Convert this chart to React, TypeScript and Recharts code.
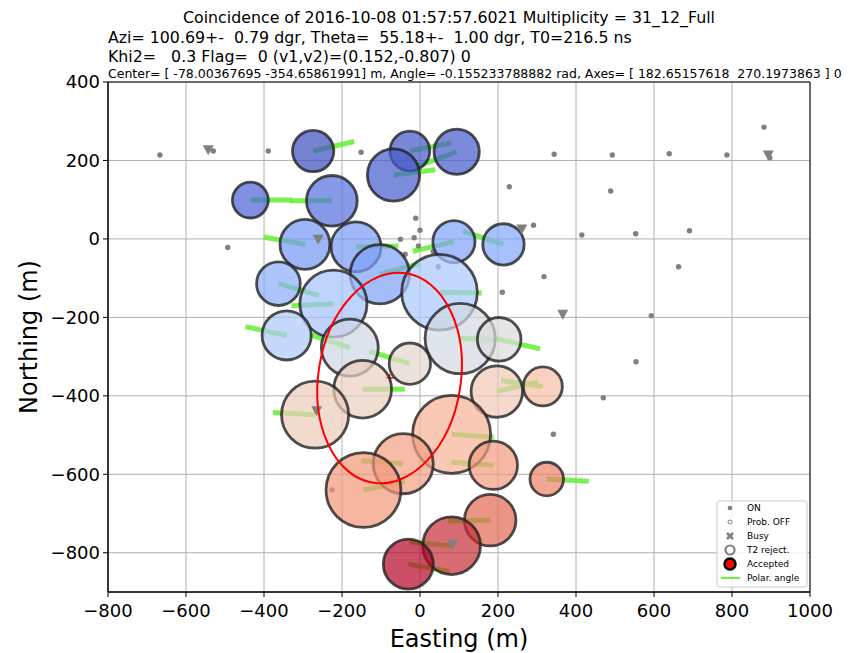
import React from "react";
import {
  CartesianGrid,
  ReferenceArea,
  Scatter,
  ScatterChart,
  XAxis,
  YAxis,
} from "recharts";

// plot box in px (matches the matplotlib axes)
const W = 850;
const H = 653;
const M = { top: 82, right: 40, bottom: 31, left: 48 };
const Y_AXIS_W = 60;
const X_AXIS_H = 30;

const xDomain = [-800, 1000];
const yDomain = [-900, 400];
const xTicks = [-800, -600, -400, -200, 0, 200, 400, 600, 800, 1000];
const yTicks = [-800, -600, -400, -200, 0, 200, 400];

const plotW = W - M.left - M.right - Y_AXIS_W;
const plotH = H - M.top - M.bottom - X_AXIS_H;
const kx = plotW / (xDomain[1] - xDomain[0]);
const ky = plotH / (yDomain[1] - yDomain[0]);

const titleLines = [
  "Coincidence of 2016-10-08 01:57:57.6021 Multiplicity = 31_12_Full",
  "Azi= 100.69+-  0.79 dgr, Theta=  55.18+-  1.00 dgr, T0=216.5 ns",
  "Khi2=   0.3 Flag=  0 (v1,v2)=(0.152,-0.807) 0",
];
const ellipseLine =
  "Center= [ -78.00367695 -354.65861991] m, Angle= -0.155233788882 rad, Axes= [ 182.65157618  270.1973863 ] 0";

// triggered antennas: position (m), footprint radius (m), relative time (0..1), polar angle (deg)
const accepted = [
  { x: -274, y: 224, r: 53, t: 0.0, phi: 13 },
  { x: -26, y: 224, r: 51, t: 0.03, phi: 11 },
  { x: 94, y: 222, r: 58, t: 0.04, phi: -160 },
  { x: -68, y: 163, r: 67, t: 0.05, phi: 7 },
  { x: -435, y: 99, r: 46, t: 0.08, phi: 0 },
  { x: -226, y: 97, r: 65, t: 0.12, phi: 180 },
  { x: -295, y: -14, r: 64, t: 0.25, phi: 170 },
  { x: -164, y: -20, r: 64, t: 0.26, phi: 1 },
  { x: -103, y: -90, r: 76, t: 0.28, phi: 15 },
  { x: 87, y: -7, r: 54, t: 0.29, phi: 193 },
  { x: 214, y: -14, r: 53, t: 0.3, phi: 162 },
  { x: -363, y: -114, r: 56, t: 0.32, phi: -16 },
  { x: -222, y: -165, r: 86, t: 0.38, phi: 183 },
  { x: 50, y: -136, r: 97, t: 0.4, phi: -1 },
  { x: -342, y: -246, r: 63, t: 0.41, phi: 168 },
  { x: -180, y: -277, r: 73, t: 0.47, phi: 162 },
  { x: 103, y: -254, r: 90, t: 0.48, phi: -1 },
  { x: 203, y: -256, r: 56, t: 0.5, phi: -13 },
  { x: -26, y: -318, r: 53, t: 0.53, phi: 163 },
  { x: -147, y: -383, r: 74, t: 0.56, phi: 0 },
  { x: -269, y: -448, r: 86, t: 0.57, phi: 177 },
  { x: 197, y: -389, r: 66, t: 0.58, phi: 13 },
  { x: 315, y: -376, r: 50, t: 0.62, phi: 172 },
  { x: 81, y: -498, r: 100, t: 0.66, phi: -4 },
  { x: -43, y: -573, r: 77, t: 0.72, phi: 176 },
  { x: 188, y: -577, r: 62, t: 0.73, phi: 176 },
  { x: -145, y: -640, r: 96, t: 0.74, phi: 11 },
  { x: 325, y: -612, r: 43, t: 0.8, phi: -3 },
  { x: 180, y: -717, r: 66, t: 0.86, phi: 181 },
  { x: 81, y: -782, r: 74, t: 0.95, phi: 175 },
  { x: -30, y: -829, r: 64, t: 1.0, phi: -10 },
];

const onStations = [
  [-667, 214], [-389, 224], [-151, 221], [-530, 224], [-493, -22],
  [-11, 53], [0, 22], [-15, 3], [-50, -1], [-38, -39], [-4, -18],
  [34, -32], [47, -71], [344, 216], [493, 214], [639, 217], [787, 214],
  [882, 285], [897, 207], [229, 133], [489, 122], [291, 35], [415, 10],
  [553, 13], [691, 21], [318, -96], [663, -71], [211, -136], [593, -196],
  [554, -313], [470, -405], [342, -498], [-225, -640],
].map(([x, y]) => ({ x, y }));

const t2Reject = [
  [-543, 227], [-261, -1], [261, 25], [893, 214], [366, -192],
  [-265, -438], [84, -778],
].map(([x, y]) => ({ x, y }));

const ellipseCenter = [-78.00367695, -354.65861991];
const ellipseAngle = -0.155233788882;
const ellipseAxes = [182.65157618, 270.1973863];
const ellipse = [{ x: ellipseCenter[0], y: ellipseCenter[1] }];

const POLAR_LEN = 108; // m
const font = "DejaVu Sans, Verdana, sans-serif";
const GREEN = "#6cf040";
const GRAY = "#808080";

// matplotlib coolwarm, coarse stops
const coolwarm = [
  [59, 76, 192], [79, 105, 217], [102, 135, 237], [130, 166, 251],
  [170, 199, 253], [221, 220, 220], [245, 196, 172], [246, 166, 137],
  [236, 128, 102], [217, 88, 71], [180, 4, 38],
];
const cmap = (t: number) => {
  const f = Math.max(0, Math.min(1, t)) * (coolwarm.length - 1);
  const i = Math.min(Math.floor(f), coolwarm.length - 2);
  const u = f - i;
  const c = coolwarm[i].map((v, k) => Math.round(v + (coolwarm[i + 1][k] - v) * u));
  return `rgb(${c[0]},${c[1]},${c[2]})`;
};

const minus = (v: number) => (v < 0 ? `\u2212${Math.abs(v)}` : `${v}`);

const PolarLine = (props: any) => {
  const { cx, cy, payload } = props;
  const a = (payload.phi * Math.PI) / 180;
  return (
    <line
      x1={cx}
      y1={cy}
      x2={cx + POLAR_LEN * Math.cos(a) * kx}
      y2={cy - POLAR_LEN * Math.sin(a) * ky}
      stroke={GREEN}
      strokeWidth={5}
      strokeOpacity={0.9}
    />
  );
};

const Antenna = (props: any) => {
  const { cx, cy, payload } = props;
  return (
    <circle
      cx={cx}
      cy={cy}
      r={payload.r * kx}
      fill={cmap(payload.t)}
      fillOpacity={0.7}
      stroke="#222"
      strokeOpacity={0.8}
      strokeWidth={2.8}
    />
  );
};

const OnDot = (props: any) => <circle cx={props.cx} cy={props.cy} r={2.7} fill={GRAY} />;

const DownTri = (props: any) => {
  const { cx, cy } = props;
  return (
    <path
      d={`M${cx - 5.5},${cy - 4.5}L${cx + 5.5},${cy - 4.5}L${cx},${cy + 5.5}Z`}
      fill={GRAY}
    />
  );
};

const CenterMark = (props: any) => {
  const { cx, cy } = props;
  return (
    <path d={`M${cx - 4},${cy}H${cx + 4}M${cx},${cy - 4}V${cy + 4}`} stroke="red" strokeWidth={1.5} />
  );
};

const ErrorEllipse = (props: any) => {
  const { cx, cy } = props;
  const deg = (-ellipseAngle * 180) / Math.PI;
  return (
    <ellipse
      cx={cx}
      cy={cy}
      rx={ellipseAxes[0] * kx}
      ry={ellipseAxes[1] * ky}
      transform={`rotate(${deg} ${cx} ${cy})`}
      fill="none"
      stroke="red"
      strokeWidth={2}
    />
  );
};

function LegendBox() {
  const x0 = 717;
  const y0 = 501;
  const sx = 730;
  const tx = 747;
  const rows = [508, 522, 536, 550, 564, 578];
  const ts = { fontFamily: font, fontSize: 9, fill: "#000" } as const;
  return (
    <g>
      <rect x={x0} y={y0} width={90} height={86} rx={2} fill="#fff" fillOpacity={0.8} stroke="#ccc" />
      <circle cx={sx} cy={rows[0]} r={2.3} fill={GRAY} />
      <circle cx={sx} cy={rows[1]} r={2} fill="#fff" stroke={GRAY} strokeWidth={1} />
      <path d={`M${sx - 3},${rows[2] - 3}L${sx + 3},${rows[2] + 3}M${sx + 3},${rows[2] - 3}L${sx - 3},${rows[2] + 3}`} stroke={GRAY} strokeWidth={2.5} />
      <circle cx={sx} cy={rows[3]} r={4.5} fill="#fff" stroke={GRAY} strokeWidth={2.2} />
      <circle cx={sx} cy={rows[4]} r={5.5} fill="red" stroke="#000" strokeWidth={2.5} />
      <line x1={sx - 9} x2={sx + 10} y1={rows[5]} y2={rows[5]} stroke={GREEN} strokeWidth={2} />
      {["ON", "Prob. OFF", "Busy", "T2 reject.", "Accepted", "Polar. angle"].map((s, i) => (
        <text key={s} x={tx} y={rows[i] + 3.2} {...ts}>
          {s}
        </text>
      ))}
    </g>
  );
}

export default function App() {
  const order = [...accepted].sort((a, b) => a.t - b.t);
  const tick = { fill: "#000", fontSize: 18, fontFamily: font };
  const pre = { whiteSpace: "pre" as const };
  return (
    <div style={{ position: "absolute", left: 0, top: 0, width: W, height: H, background: "#fff", overflow: "hidden" }}>
      <ScatterChart width={W} height={H} margin={M}>
        <CartesianGrid stroke="#b0b0b0" strokeWidth={1} />
        <XAxis
          type="number"
          dataKey="x"
          domain={xDomain}
          ticks={xTicks}
          tickFormatter={minus}
          tick={tick}
          stroke="#000"
          tickSize={5}
          tickMargin={7}
          height={X_AXIS_H}
          allowDataOverflow
        />
        <YAxis
          type="number"
          dataKey="y"
          domain={yDomain}
          ticks={yTicks}
          tickFormatter={minus}
          tick={tick}
          stroke="#000"
          tickSize={5}
          tickMargin={3}
          width={Y_AXIS_W}
          allowDataOverflow
        />
        <Scatter data={order} shape={PolarLine} isAnimationActive={false} />
        <Scatter data={onStations} shape={OnDot} isAnimationActive={false} />
        <Scatter data={ellipse} shape={CenterMark} isAnimationActive={false} />
        <Scatter data={order} shape={Antenna} isAnimationActive={false} />
        <Scatter data={t2Reject} shape={DownTri} isAnimationActive={false} />
        <Scatter data={ellipse} shape={ErrorEllipse} isAnimationActive={false} />
        <ReferenceArea
          x1={xDomain[0]}
          x2={xDomain[1]}
          y1={yDomain[0]}
          y2={yDomain[1]}
          fill="none"
          stroke="#000"
          strokeWidth={1}
          ifOverflow="visible"
        />
      </ScatterChart>
      <svg
        width={W}
        height={H}
        style={{ position: "absolute", left: 0, top: 0, pointerEvents: "none" }}
      >
        <g fontFamily={font} fill="#000">
          <text x={449} y={23} fontSize={15.8} textAnchor="middle" xmlSpace="preserve" style={pre}>
            {titleLines[0]}
          </text>
          <text x={108} y={43} fontSize={15.8} xmlSpace="preserve" style={pre}>
            {titleLines[1]}
          </text>
          <text x={108} y={62} fontSize={15.8} xmlSpace="preserve" style={pre}>
            {titleLines[2]}
          </text>
          <text x={108} y={77.5} fontSize={12.5} xmlSpace="preserve" style={pre}>
            {ellipseLine}
          </text>
          <text x={459} y={647} fontSize={24} textAnchor="middle">Easting (m)</text>
          <text x={37} y={337} fontSize={24} textAnchor="middle" transform="rotate(-90 37 337)">
            Northing (m)
          </text>
        </g>
        <LegendBox />
      </svg>
    </div>
  );
}
